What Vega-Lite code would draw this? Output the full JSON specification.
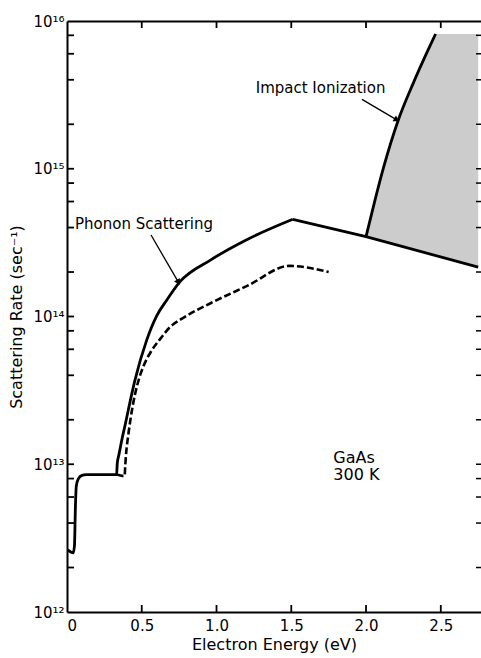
{
  "$schema": "https://vega.github.io/schema/vega-lite/v6.json",
  "width": 414,
  "height": 591,
  "autosize": "none",
  "padding": {"left": 67, "top": 21, "right": 0, "bottom": 46},
  "background": "white",
  "config": {
    "view": {"stroke": null},
    "font": "DejaVu Sans",
    "axis": {
      "domainColor": "black",
      "domainWidth": 2,
      "ticks": false,
      "grid": false,
      "zindex": 0,
      "labelColor": "black",
      "labelFont": "DejaVu Sans",
      "labelFontSize": 15,
      "titleColor": "black",
      "titleFont": "DejaVu Sans",
      "titleFontSize": 16,
      "titleFontWeight": "normal"
    }
  },
  "datasets": {
    "curves": [
      {"energy": 0.005, "rate": 2.63e12, "series": "phonon-rise"},
      {"energy": 0.042, "rate": 2.51e12, "series": "phonon-rise"},
      {"energy": 0.05, "rate": 2.82e12, "series": "phonon-rise"},
      {"energy": 0.056, "rate": 5.0e12, "series": "phonon-rise"},
      {"energy": 0.062, "rate": 7.08e12, "series": "phonon-rise"},
      {"energy": 0.075, "rate": 7.94e12, "series": "phonon-rise"},
      {"energy": 0.1, "rate": 8.41e12, "series": "phonon-rise"},
      {"energy": 0.13, "rate": 8.51e12, "series": "phonon-rise"},
      {"energy": 0.332, "rate": 8.51e12, "series": "phonon-rise"},
      {"energy": 0.336, "rate": 1.01e13, "series": "phonon-rise"},
      {"energy": 0.348, "rate": 1.17e13, "series": "phonon-rise"},
      {"energy": 0.366, "rate": 1.45e13, "series": "phonon-rise"},
      {"energy": 0.388, "rate": 1.83e13, "series": "phonon-rise"},
      {"energy": 0.41, "rate": 2.33e13, "series": "phonon-rise"},
      {"energy": 0.455, "rate": 3.72e13, "series": "phonon-rise"},
      {"energy": 0.533, "rate": 6.92e13, "series": "phonon-rise"},
      {"energy": 0.6, "rate": 1.01e14, "series": "phonon-rise"},
      {"energy": 0.667, "rate": 1.29e14, "series": "phonon-rise"},
      {"energy": 0.756, "rate": 1.72e14, "series": "phonon-rise"},
      {"energy": 0.957, "rate": 2.4e14, "series": "phonon-rise"},
      {"energy": 1.202, "rate": 3.31e14, "series": "phonon-rise"},
      {"energy": 1.51, "rate": 4.55e14, "series": "phonon-rise"},
      {"energy": 1.51, "rate": 4.55e14, "series": "phonon-fall"},
      {"energy": 2.0, "rate": 3.47e14, "series": "phonon-fall"},
      {"energy": 2.75, "rate": 2.16e14, "series": "phonon-fall"},
      {"energy": 0.332, "rate": 8.51e12, "series": "dashed"},
      {"energy": 0.385, "rate": 8.3e12, "series": "dashed"},
      {"energy": 0.39, "rate": 1.0e13, "series": "dashed"},
      {"energy": 0.396, "rate": 1.2e13, "series": "dashed"},
      {"energy": 0.41, "rate": 1.58e13, "series": "dashed"},
      {"energy": 0.44, "rate": 2.5e13, "series": "dashed"},
      {"energy": 0.47, "rate": 3.44e13, "series": "dashed"},
      {"energy": 0.51, "rate": 4.57e13, "series": "dashed"},
      {"energy": 0.56, "rate": 5.75e13, "series": "dashed"},
      {"energy": 0.625, "rate": 7.08e13, "series": "dashed"},
      {"energy": 0.69, "rate": 8.5e13, "series": "dashed"},
      {"energy": 0.76, "rate": 9.55e13, "series": "dashed"},
      {"energy": 0.96, "rate": 1.23e14, "series": "dashed"},
      {"energy": 1.205, "rate": 1.61e14, "series": "dashed"},
      {"energy": 1.49, "rate": 2.2e14, "series": "dashed"},
      {"energy": 1.75, "rate": 2.0e14, "series": "dashed"}
    ],
    "impact": [
      {"energy": 2.0, "rate": 3.47e14},
      {"energy": 2.06, "rate": 6.14e14},
      {"energy": 2.116, "rate": 1.01e15},
      {"energy": 2.216, "rate": 2.14e15},
      {"energy": 2.316, "rate": 3.8e15},
      {"energy": 2.406, "rate": 6.08e15},
      {"energy": 2.465, "rate": 8.17e15}
    ],
    "shade": [
      {"energy": 2.0, "rate": 3.47e14, "rate2": 3.47e14},
      {"energy": 2.06, "rate": 3.34e14, "rate2": 6.14e14},
      {"energy": 2.116, "rate": 3.22e14, "rate2": 1.01e15},
      {"energy": 2.216, "rate": 3.03e14, "rate2": 2.14e15},
      {"energy": 2.316, "rate": 2.84e14, "rate2": 3.8e15},
      {"energy": 2.406, "rate": 2.69e14, "rate2": 6.08e15},
      {"energy": 2.465, "rate": 2.59e14, "rate2": 8.17e15},
      {"energy": 2.75, "rate": 2.16e14, "rate2": 8.17e15}
    ],
    "notes": [
      {"energy": 1.696, "rate": 3.51e15, "label": "Impact Ionization", "size": "small"},
      {"energy": 0.515, "rate": 4.23e14, "label": "Phonon Scattering", "size": "small"},
      {"energy": 1.781, "rate": 1.11e13, "label": "GaAs", "size": "large"},
      {"energy": 1.781, "rate": 8.4e12, "label": "300 K", "size": "large"}
    ],
    "arrows": [
      {"name": "impact", "energy": 1.973, "rate": 2.95e15, "energy2": 2.2, "rate2": 2.16e15},
      {"name": "phonon", "energy": 0.562, "rate": 3.56e14, "energy2": 0.742, "rate2": 1.73e14}
    ],
    "energyTicks": [
      {"energy": 0.5}, {"energy": 1.0}, {"energy": 1.5}, {"energy": 2.0}, {"energy": 2.5}
    ],
    "rateTicks": [
      {"rate": 2e12}, {"rate": 4e12}, {"rate": 6e12}, {"rate": 8e12}, {"rate": 1e13},
      {"rate": 2e13}, {"rate": 4e13}, {"rate": 6e13}, {"rate": 8e13}, {"rate": 1e14},
      {"rate": 2e14}, {"rate": 4e14}, {"rate": 6e14}, {"rate": 8e14}, {"rate": 1e15},
      {"rate": 2e15}, {"rate": 4e15}, {"rate": 6e15}, {"rate": 8e15}
    ]
  },
  "layer": [
    {
      "data": {"name": "shade"},
      "mark": {"type": "area", "color": "#cccccc", "opacity": 1},
      "encoding": {
        "x": {
          "field": "energy", "type": "quantitative",
          "scale": {"domain": [0, 2.769], "nice": false, "zero": false},
          "axis": {"orient": "top", "labels": false, "title": null}
        },
        "y": {
          "field": "rate", "type": "quantitative",
          "scale": {"type": "log", "domain": [1e12, 1e16], "nice": false},
          "axis": null
        },
        "y2": {"field": "rate2"}
      }
    },
    {
      "data": {"name": "curves"},
      "transform": [{"filter": "datum.series == 'phonon-rise'"}],
      "mark": {"type": "line", "color": "black", "strokeWidth": 2.8, "interpolate": "monotone"},
      "encoding": {
        "x": {
          "field": "energy", "type": "quantitative",
          "scale": {"domain": [0, 2.769], "nice": false, "zero": false},
          "axis": {
            "orient": "bottom", "values": [0, 0.5, 1, 1.5, 2, 2.5],
            "labelExpr": "datum.value == 0 ? '0' : format(datum.value, '.1f')",
            "labelPadding": 6, "title": "Electron Energy (eV)", "titlePadding": 3
          }
        },
        "y": {
          "field": "rate", "type": "quantitative",
          "scale": {"type": "log", "domain": [1e12, 1e16], "nice": false},
          "axis": {
            "orient": "left",
            "values": [1e12, 1e13, 1e14, 1e15, 1e16],
            "labelExpr": "datum.value == 1e12 ? '10¹²' : datum.value == 1e13 ? '10¹³' : datum.value == 1e14 ? '10¹⁴' : datum.value == 1e15 ? '10¹⁵' : '10¹⁶'",
            "labelOverlap": false, "labelPadding": 3, "labelDy": 1,
            "title": "Scattering Rate (sec⁻¹)", "titlePadding": 8
          }
        }
      }
    },
    {
      "data": {"name": "curves"},
      "transform": [{"filter": "datum.series == 'phonon-fall'"}],
      "mark": {"type": "line", "color": "black", "strokeWidth": 2.8},
      "encoding": {
        "x": {"field": "energy", "type": "quantitative", "scale": {"domain": [0, 2.769], "nice": false, "zero": false}, "axis": null},
        "y": {"field": "rate", "type": "quantitative", "scale": {"type": "log", "domain": [1e12, 1e16], "nice": false}, "axis": null}
      }
    },
    {
      "data": {"name": "curves"},
      "transform": [{"filter": "datum.series == 'dashed'"}],
      "mark": {"type": "line", "color": "black", "strokeWidth": 2.6, "strokeDash": [7, 3], "interpolate": "monotone"},
      "encoding": {
        "x": {"field": "energy", "type": "quantitative", "scale": {"domain": [0, 2.769], "nice": false, "zero": false}, "axis": null},
        "y": {"field": "rate", "type": "quantitative", "scale": {"type": "log", "domain": [1e12, 1e16], "nice": false}, "axis": null}
      }
    },
    {
      "data": {"name": "impact"},
      "mark": {"type": "line", "color": "black", "strokeWidth": 2.8, "interpolate": "monotone"},
      "encoding": {
        "x": {"field": "energy", "type": "quantitative", "scale": {"domain": [0, 2.769], "nice": false, "zero": false}, "axis": null},
        "y": {"field": "rate", "type": "quantitative", "scale": {"type": "log", "domain": [1e12, 1e16], "nice": false}, "axis": null}
      }
    },
    {
      "data": {"name": "energyTicks"},
      "mark": {"type": "rule", "color": "black", "strokeWidth": 1.8, "y2Offset": -7},
      "encoding": {
        "x": {"field": "energy", "type": "quantitative", "scale": {"domain": [0, 2.769], "nice": false, "zero": false}, "axis": null},
        "y": {"datum": 1e12, "type": "quantitative", "scale": {"type": "log", "domain": [1e12, 1e16], "nice": false}, "axis": null},
        "y2": {"datum": 1e12}
      }
    },
    {
      "data": {"name": "energyTicks"},
      "mark": {"type": "rule", "color": "black", "strokeWidth": 1.8, "y2Offset": 7},
      "encoding": {
        "x": {"field": "energy", "type": "quantitative", "scale": {"domain": [0, 2.769], "nice": false, "zero": false}, "axis": null},
        "y": {"datum": 1e16, "type": "quantitative", "scale": {"type": "log", "domain": [1e12, 1e16], "nice": false}, "axis": null},
        "y2": {"datum": 1e16}
      }
    },
    {
      "data": {"name": "rateTicks"},
      "mark": {"type": "rule", "color": "black", "strokeWidth": 1.8, "x2Offset": 7},
      "encoding": {
        "x": {"datum": 0, "type": "quantitative", "scale": {"domain": [0, 2.769], "nice": false, "zero": false}, "axis": null},
        "x2": {"datum": 0},
        "y": {"field": "rate", "type": "quantitative", "scale": {"type": "log", "domain": [1e12, 1e16], "nice": false}, "axis": null}
      }
    },
    {
      "data": {"name": "rateTicks"},
      "mark": {"type": "tick", "orient": "horizontal", "color": "black", "size": 5, "thickness": 1.5, "xOffset": -2.5, "opacity": 1},
      "encoding": {
        "x": {"datum": 2.769, "type": "quantitative", "scale": {"domain": [0, 2.769], "nice": false, "zero": false}, "axis": null},
        "y": {"field": "rate", "type": "quantitative", "scale": {"type": "log", "domain": [1e12, 1e16], "nice": false}, "axis": null}
      }
    },
    {
      "data": {"name": "arrows"},
      "mark": {"type": "rule", "color": "black", "strokeWidth": 1.3},
      "encoding": {
        "x": {"field": "energy", "type": "quantitative", "scale": {"domain": [0, 2.769], "nice": false, "zero": false}, "axis": null},
        "y": {"field": "rate", "type": "quantitative", "scale": {"type": "log", "domain": [1e12, 1e16], "nice": false}, "axis": null},
        "x2": {"field": "energy2"},
        "y2": {"field": "rate2"}
      }
    },
    {
      "data": {"name": "arrows"},
      "transform": [{"filter": "datum.name == 'impact'"}],
      "mark": {"type": "point", "shape": "triangle", "filled": true, "color": "black", "size": 45, "angle": 121, "opacity": 1},
      "encoding": {
        "x": {"field": "energy2", "type": "quantitative", "scale": {"domain": [0, 2.769], "nice": false, "zero": false}, "axis": null},
        "y": {"field": "rate2", "type": "quantitative", "scale": {"type": "log", "domain": [1e12, 1e16], "nice": false}, "axis": null}
      }
    },
    {
      "data": {"name": "arrows"},
      "transform": [{"filter": "datum.name == 'phonon'"}],
      "mark": {"type": "point", "shape": "triangle", "filled": true, "color": "black", "size": 45, "angle": 149, "opacity": 1},
      "encoding": {
        "x": {"field": "energy2", "type": "quantitative", "scale": {"domain": [0, 2.769], "nice": false, "zero": false}, "axis": null},
        "y": {"field": "rate2", "type": "quantitative", "scale": {"type": "log", "domain": [1e12, 1e16], "nice": false}, "axis": null}
      }
    },
    {
      "data": {"name": "notes"},
      "transform": [{"filter": "datum.size == 'small'"}],
      "mark": {"type": "text", "font": "DejaVu Sans", "fontSize": 15, "color": "black", "align": "center", "baseline": "middle"},
      "encoding": {
        "x": {"field": "energy", "type": "quantitative", "scale": {"domain": [0, 2.769], "nice": false, "zero": false}, "axis": null},
        "y": {"field": "rate", "type": "quantitative", "scale": {"type": "log", "domain": [1e12, 1e16], "nice": false}, "axis": null},
        "text": {"field": "label"}
      }
    },
    {
      "data": {"name": "notes"},
      "transform": [{"filter": "datum.size == 'large'"}],
      "mark": {"type": "text", "font": "DejaVu Sans", "fontSize": 16, "color": "black", "align": "left", "baseline": "middle"},
      "encoding": {
        "x": {"field": "energy", "type": "quantitative", "scale": {"domain": [0, 2.769], "nice": false, "zero": false}, "axis": null},
        "y": {"field": "rate", "type": "quantitative", "scale": {"type": "log", "domain": [1e12, 1e16], "nice": false}, "axis": null},
        "text": {"field": "label"}
      }
    }
  ],
  "resolve": {"axis": {"x": "independent", "y": "independent"}}
}
